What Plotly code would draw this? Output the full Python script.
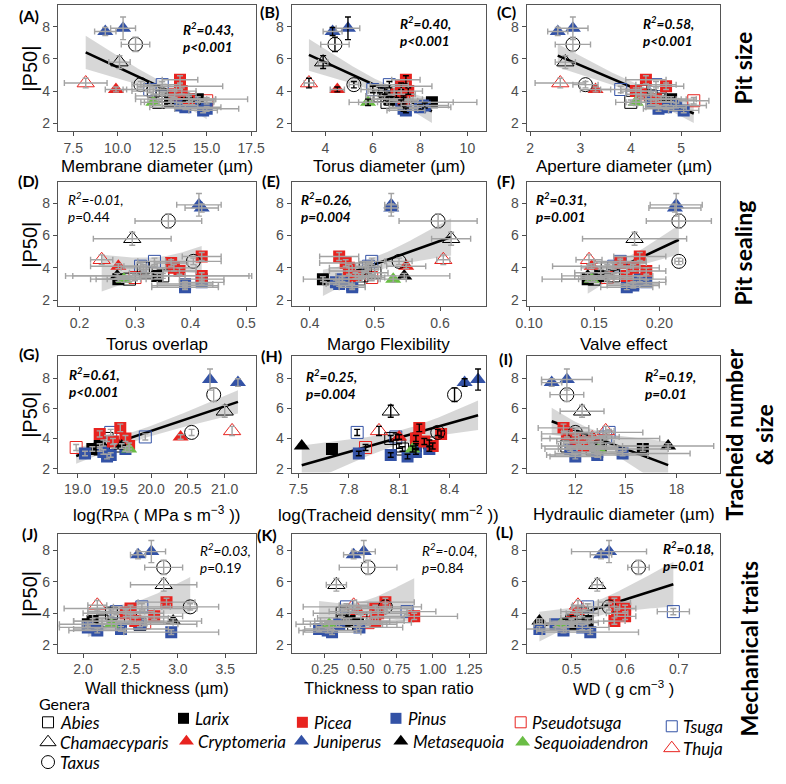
import numpy as np
import plotly.graph_objects as go

# ---------------- data (one entry per species, same order everywhere) ----------------
genus = ["Juniperus", "Juniperus", "Taxus", "Chamaecyparis", "Thuja", "Taxus", "Cryptomeria",
         "Picea", "Picea", "Picea", "Picea", "Picea", "Tsuga", "Tsuga",
         "Abies", "Abies", "Abies", "Abies", "Larix", "Larix", "Metasequoia",
         "Sequoiadendron", "Pseudotsuga", "Pinus", "Pinus", "Pinus", "Pinus", "Pinus"]
p50 = [7.7, 7.9, 6.9, 5.8, 4.5, 4.4, 4.1, 4.7, 4.3, 3.8, 4.0, 3.5, 4.4, 4.1,
       4.0, 3.7, 3.5, 3.3, 3.3, 3.5, 3.5, 3.3, 3.4, 3.0, 2.9, 3.3, 3.1, 2.8]
p50_sd = [0.25, 0.7, 0.45, 0.4, 0.3, 0.2, 0.15, 0.25, 0.2, 0.2, 0.2, 0.2, 0.2, 0.2,
          0.2, 0.2, 0.15, 0.15, 0.15, 0.15, 0.15, 0.2, 0.2, 0.15, 0.15, 0.15, 0.15, 0.15]

membrane_diam = [9.3, 10.3, 11.0, 10.1, 8.2, 11.3, 9.9, 13.5, 13.5, 13.2, 13.6, 14.0, 12.5, 11.8,
                 12.0, 12.5, 13.0, 12.3, 13.0, 14.5, 14.0, 12.0, 15.0, 13.8, 15.0, 14.2, 13.5, 14.8]
membrane_sd = [0.6, 0.7, 0.8, 0.6, 1.2, 0.5, 0.6, 1.0, 2.4, 1.2, 0.8, 1.5, 1.0, 1.5,
               1.2, 1.5, 2.0, 1.0, 1.0, 2.8, 1.5, 0.5, 0.4, 2.0, 1.8, 1.2, 1.0, 0.8]
torus_diam = [4.3, 4.95, 4.4, 3.9, 3.3, 5.2, 4.5, 7.4, 7.2, 7.0, 7.5, 7.3, 6.7, 6.0,
              6.5, 6.3, 6.8, 6.6, 8.5, 6.7, 6.7, 5.8, 7.3, 8.0, 7.3, 7.2, 8.2, 7.4]
torus_sd = [0.4, 0.5, 0.6, 0.2, 0.2, 0.2, 0.3, 0.6, 1.3, 0.8, 0.6, 0.8, 0.8, 0.5,
            0.7, 0.6, 0.8, 0.9, 1.9, 1.0, 0.8, 0.4, 0.6, 1.3, 0.6, 2.2, 1.0, 0.8]
aperture_diam = [2.55, 2.85, 2.85, 2.7, 2.6, 3.1, 3.3, 4.3, 4.7, 4.2, 4.1, 4.5, 4.5, 3.8,
                 4.2, 4.4, 4.6, 4.0, 4.5, 4.8, 4.7, 4.1, 5.25, 4.7, 4.55, 4.4, 4.9, 5.05]
aperture_sd = [0.2, 0.3, 0.35, 0.2, 0.5, 0.25, 0.3, 0.4, 0.35, 0.3, 0.3, 0.4, 0.4, 0.4,
               0.3, 0.3, 0.4, 0.3, 0.3, 0.5, 0.4, 0.2, 0.3, 0.4, 0.3, 0.5, 0.6, 0.3]
torus_overlap = [0.42, 0.415, 0.36, 0.295, 0.24, 0.405, 0.27, 0.42, 0.365, 0.38, 0.37, 0.42, 0.335, 0.31,
                 0.315, 0.32, 0.35, 0.29, 0.27, 0.34, 0.268, 0.28, 0.30, 0.39, 0.39, 0.42, 0.42, 0.39]
torus_overlap_sd = [0.03, 0.04, 0.06, 0.07, 0.02, 0.05, 0.05, 0.035, 0.03, 0.03, 0.04, 0.09, 0.03, 0.03,
                    0.04, 0.03, 0.04, 0.06, 0.05, 0.165, 0.08, 0.03, 0.03, 0.05, 0.06, 0.04, 0.04, 0.06]
margo_flex = [0.525, 0.525, 0.597, 0.617, 0.605, 0.537, 0.548, 0.445, 0.455, 0.46, 0.46, 0.47, 0.495, 0.49,
              0.485, 0.50, 0.48, 0.475, 0.42, 0.47, 0.545, 0.528, 0.495, 0.445, 0.465, 0.45, 0.44, 0.465]
margo_flex_sd = [0.01, 0.01, 0.06, 0.03, 0.01, 0.02, 0.03, 0.03, 0.04, 0.03, 0.03, 0.03, 0.02, 0.02,
                 0.02, 0.02, 0.02, 0.03, 0.03, 0.02, 0.07, 0.02, 0.02, 0.02, 0.02, 0.03, 0.02, 0.02]
valve_effect = [0.212, 0.213, 0.215, 0.181, 0.146, 0.215, 0.148, 0.185, 0.17, 0.19, 0.18, 0.175, 0.17, 0.165,
                0.16, 0.155, 0.165, 0.15, 0.145, 0.155, 0.145, 0.148, 0.16, 0.18, 0.18, 0.185, 0.19, 0.175]
valve_effect_sd = [0.02, 0.02, 0.025, 0.04, 0.01, 0.003, 0.03, 0.02, 0.02, 0.015, 0.02, 0.02, 0.02, 0.02,
                   0.02, 0.02, 0.025, 0.04, 0.02, 0.02, 0.02, 0.01, 0.02, 0.02, 0.02, 0.02, 0.015, 0.02]
log_rpa = [21.18, 20.8, 20.85, 21.0, 21.1, 20.55, 20.4, 19.58, 19.3, 19.48, 19.65, 19.7, 19.45, 19.92,
           19.4, 19.35, 19.5, 19.3, 19.2, 19.3, 19.6, 19.7, 18.98, 19.1, 19.45, 19.65, 19.35, 19.4]
log_density = [8.49, 8.57, 8.43, 8.05, 7.98, 8.33, 8.1, 8.22, 8.35, 8.25, 8.2, 8.3, 7.85, 8.08,
               8.05, 8.28, 8.1, 8.12, 7.7, 8.2, 7.52, 8.18, 7.9, 7.86, 8.05, 8.28, 8.2, 8.15]
hyd_diam = [10.6, 11.5, 11.5, 12.4, 13.8, 12.0, 13.0, 11.3, 11.5, 12.2, 12.0, 12.5, 14.0, 13.8,
            13.5, 12.8, 11.5, 13.0, 16.0, 13.5, 17.5, 13.4, 13.0, 14.8, 13.3, 11.7, 13.3, 12.0]
hyd_diam_sd = [0.6, 1.5, 1.0, 1.3, 0.5, 0.8, 0.8, 1.5, 1.5, 1.3, 1.5, 1.3, 2.0, 0.8,
               3.5, 1.5, 1.5, 2.0, 1.5, 2.5, 2.7, 1.0, 1.5, 4.0, 3.0, 1.5, 1.5, 1.5]
wall_thick = [2.58, 2.72, 2.85, 2.85, 2.15, 3.13, 2.45, 2.88, 2.5, 2.75, 2.45, 2.55, 2.62, 2.35,
              2.3, 2.5, 2.2, 2.6, 2.05, 2.1, 2.95, 2.3, 2.65, 2.4, 2.15, 2.6, 2.05, 2.93]
wall_thick_sd = [0.08, 0.15, 0.2, 0.35, 0.1, 0.3, 0.3, 0.3, 0.7, 0.3, 0.4, 0.3, 0.3, 0.3,
                 0.3, 0.4, 0.3, 0.4, 0.3, 0.2, 0.3, 0.1, 0.3, 0.5, 0.3, 0.6, 0.3, 0.5]
thick_span = [0.45, 0.52, 0.55, 0.33, 0.45, 0.67, 0.48, 0.67, 0.6, 0.87, 0.62, 0.6, 0.4, 0.82,
              0.37, 0.5, 0.38, 0.45, 0.48, 0.42, 0.40, 0.28, 0.55, 0.21, 0.27, 0.35, 0.49, 0.3]
thick_span_sd = [0.07, 0.08, 0.2, 0.07, 0.1, 0.25, 0.2, 0.2, 0.25, 0.3, 0.2, 0.2, 0.3, 0.2,
                 0.2, 0.3, 0.2, 0.3, 0.2, 0.2, 0.3, 0.05, 0.3, 0.1, 0.2, 0.3, 0.3, 0.2]
wood_density = [0.555, 0.57, 0.625, 0.548, 0.512, 0.57, 0.51, 0.58, 0.60, 0.60, 0.585, 0.58, 0.53, 0.69,
                0.52, 0.51, 0.50, 0.49, 0.50, 0.53, 0.44, 0.48, 0.50, 0.44, 0.485, 0.47, 0.52, 0.535]
wood_density_sd = [0.02, 0.07, 0.02, 0.01, 0.01, 0.02, 0.03, 0.03, 0.02, 0.02, 0.02, 0.02, 0.03, 0.03,
                   0.03, 0.03, 0.04, 0.04, 0.03, 0.05, 0.005, 0.03, 0.05, 0.05, 0.05, 0.04, 0.05, 0.09]

r2_values = ["0.43", "0.40", "0.58", "-0.01", "0.26", "0.31", "0.61", "0.25", "0.19", "0.03", "-0.04", "0.18"]
p_values = ["<0.001", "<0.001", "<0.001", "=0.44", "=0.004", "=0.001", "<0.001", "=0.004", "=0.01",
            "=0.19", "=0.84", "=0.01"]
significant = [True, True, True, False, True, True, True, True, True, False, False, True]

ticks_A = [7.5, 10.0, 12.5, 15.0, 17.5]; labels_A = ["7.5", "10.0", "12.5", "15.0", "17.5"]
ticks_B = [4, 6, 8, 10]; labels_B = ["4", "6", "8", "10"]
ticks_C = [2, 3, 4, 5]; labels_C = ["2", "3", "4", "5"]
ticks_D = [0.2, 0.3, 0.4, 0.5]; labels_D = ["0.2", "0.3", "0.4", "0.5"]
ticks_E = [0.4, 0.5, 0.6]; labels_E = ["0.4", "0.5", "0.6"]
ticks_F = [0.10, 0.15, 0.20]; labels_F = ["0.10", "0.15", "0.20"]
ticks_G = [19.0, 19.5, 20.0, 20.5, 21.0]; labels_G = ["19.0", "19.5", "20.0", "20.5", "21.0"]
ticks_H = [7.5, 7.8, 8.1, 8.4]; labels_H = ["7.5", "7.8", "8.1", "8.4"]
ticks_I = [12, 15, 18]; labels_I = ["12", "15", "18"]
ticks_J = [2.0, 2.5, 3.0, 3.5]; labels_J = ["2.0", "2.5", "3.0", "3.5"]
ticks_K = [0.25, 0.50, 0.75, 1.00, 1.25]; labels_K = ["0.25", "0.50", "0.75", "1.00", "1.25"]
ticks_L = [0.5, 0.6, 0.7]; labels_L = ["0.5", "0.6", "0.7"]
ticks_P50 = [2, 4, 6, 8]

legend_genera = ["Abies", "Chamaecyparis", "Taxus", "Larix", "Cryptomeria", "Picea", "Juniperus",
                 "Pinus", "Metasequoia", "Pseudotsuga", "Sequoiadendron", "Tsuga", "Thuja"]

# ---------------- styles / layout ----------------
W, H = 786, 784
RED, BLUE, GREEN, BLK = "#e8231f", "#3352a6", "#6abd45", "#000000"
GREY_ERR = "#a3a3a3"
TICKC = "#4d4d4d"
style = {
    "Abies": ("square-open", BLK, 12), "Chamaecyparis": ("triangle-up-open", BLK, 15),
    "Taxus": ("circle-open", BLK, 14), "Larix": ("square", BLK, 12),
    "Cryptomeria": ("triangle-up", RED, 14), "Picea": ("square", RED, 12),
    "Juniperus": ("triangle-up", BLUE, 14), "Pinus": ("square", BLUE, 12),
    "Metasequoia": ("triangle-up", BLK, 14), "Pseudotsuga": ("square-open", RED, 12),
    "Sequoiadendron": ("triangle-up", GREEN, 14), "Tsuga": ("square-open", BLUE, 12),
    "Thuja": ("triangle-up-open", RED, 15),
}
draw_order = ["Tsuga", "Pseudotsuga", "Abies", "Larix", "Pinus", "Picea", "Metasequoia", "Sequoiadendron",
              "Cryptomeria", "Thuja", "Chamaecyparis", "Taxus", "Juniperus"]

col_px = [(48, 251), (288, 487), (529, 728)]
row_px = [(5, 132), (183, 308), (358, 475), (537, 656)]
row_yrange = [[1.5, 9.35], [1.61, 9.31], [1.74, 9.45], [1.5, 9.0]]
xtitle_y = [167, 346, 517, 692]

panels = [
    dict(x=membrane_diam, sd=membrane_sd, xr=[6.63, 17.75], tv=ticks_A, tt=labels_A,
         title="Membrane diameter (µm)", lab="(A)", lab_xy=(18, 16), txt_xy=(175, 19), ycol=GREY_ERR),
    dict(x=torus_diam, sd=torus_sd, xr=[2.57, 10.77], tv=ticks_B, tt=labels_B,
         title="Torus diameter (µm)", lab="(B)", lab_xy=(265, 12), txt_xy=(398, 13), ycol=BLK),
    dict(x=aperture_diam, sd=aperture_sd, xr=[1.93, 5.78], tv=ticks_C, tt=labels_C,
         title="Aperture diameter (µm)", lab="(C)", lab_xy=(508, 12), txt_xy=(647, 13), ycol=GREY_ERR),
    dict(x=torus_overlap, sd=torus_overlap_sd, xr=[0.161, 0.517], tv=ticks_D, tt=labels_D,
         title="Torus overlap", lab="(D)", lab_xy=(18, 181), txt_xy=(57, 190), ycol=GREY_ERR),
    dict(x=margo_flex, sd=margo_flex_sd, xr=[0.372, 0.670], tv=ticks_E, tt=labels_E,
         title="Margo Flexibility", lab="(E)", lab_xy=(267, 181), txt_xy=(297, 190), ycol=GREY_ERR),
    dict(x=valve_effect, sd=valve_effect_sd, xr=[0.098, 0.247], tv=ticks_F, tt=labels_F,
         title="Valve effect", lab="(F)", lab_xy=(508, 181), txt_xy=(538, 190), ycol=GREY_ERR),
    dict(x=log_rpa, sd=None, xr=[18.73, 21.42], tv=ticks_G, tt=labels_G,
         title='log(R<span style="font-size:12px">PA</span> ( MPa s m<sup>−3</sup> ))',
         lab="(G)", lab_xy=(18, 355), txt_xy=(58, 366), ycol=GREY_ERR),
    dict(x=log_density, sd=None, xr=[7.46, 8.615], tv=ticks_H, tt=labels_H,
         title="log(Tracheid density( mm<sup>−2</sup> ))", lab="(H)", lab_xy=(267, 357),
         txt_xy=(302, 368), ycol=BLK),
    dict(x=hyd_diam, sd=hyd_diam_sd, xr=[9.11, 20.6], tv=ticks_I, tt=labels_I,
         title="Hydraulic diameter (µm)", lab="(I)", lab_xy=(508, 360), txt_xy=(650, 368), ycol=GREY_ERR),
    dict(x=wall_thick, sd=wall_thick_sd, xr=[1.733, 3.82], tv=ticks_J, tt=labels_J,
         title="Wall thickness (µm)", lab="(J)", lab_xy=(20, 536), txt_xy=(193, 543), ycol=GREY_ERR),
    dict(x=thick_span, sd=thick_span_sd, xr=[0.02, 1.365], tv=ticks_K, tt=labels_K,
         title="Thickness to span ratio", lab="(K)", lab_xy=(263, 537), txt_xy=(421, 543), ycol=GREY_ERR),
    dict(x=wood_density, sd=wood_density_sd, xr=[0.416, 0.778], tv=ticks_L, tt=labels_L,
         title="WD ( g cm<sup>−3</sup> )", lab="(L)", lab_xy=(506, 534), txt_xy=(668, 541), ycol=GREY_ERR),
]


def fit_band(x, y, n_grid=80, t=2.056):
    x = np.asarray(x, float); y = np.asarray(y, float)
    n = len(x); xm = x.mean(); sxx = ((x - xm) ** 2).sum()
    b = ((x - xm) * (y - y.mean())).sum() / sxx
    a = y.mean() - b * xm
    s = np.sqrt(((y - (a + b * x)) ** 2).sum() / (n - 2))
    xg = np.linspace(x.min(), x.max(), n_grid)
    yg = a + b * xg
    se = s * np.sqrt(1.0 / n + (xg - xm) ** 2 / sxx)
    return xg, yg, yg - t * se, yg + t * se


fig = go.Figure()
layout = dict(width=W, height=H, margin=dict(l=0, r=0, t=0, b=0), showlegend=False,
              paper_bgcolor="white", plot_bgcolor="rgba(0,0,0,0)")
annotations = []


def ann(text, x, y, size, family="Liberation Sans", color="black", xanchor="center",
       yanchor="middle", angle=0, align="center"):
    annotations.append(dict(text=text, x=x / W, y=1 - y / H, xref="paper", yref="paper", showarrow=False,
                            font=dict(size=size, family=family, color=color), xanchor=xanchor,
                            yanchor=yanchor, textangle=angle, align=align, borderpad=0))


gen_arr = np.array(genus)
y_arr = np.array(p50)
for i, p in enumerate(panels):
    r, c = divmod(i, 3)
    sfx = "" if i == 0 else str(i + 1)
    xa, ya = "x" + sfx, "y" + sfx
    x0, x1 = col_px[c]; y0, y1 = row_px[r]
    axis_common = dict(showgrid=False, zeroline=False, showline=True, mirror=True, linecolor="#555555",
                       linewidth=1, ticks="outside", ticklen=4, tickcolor=TICKC, tickwidth=1,
                       tickfont=dict(size=14, family="Liberation Sans", color=TICKC))
    layout["xaxis" + sfx] = dict(domain=[x0 / W, x1 / W], range=p["xr"], tickvals=p["tv"], ticktext=p["tt"],
                                 anchor=ya, **axis_common)
    layout["yaxis" + sfx] = dict(domain=[1 - y1 / H, 1 - y0 / H], range=row_yrange[r], tickvals=ticks_P50,
                                 ticktext=[str(v) for v in ticks_P50], anchor=xa, **axis_common)

    xg, yg, lo, hi = fit_band(p["x"], p50)
    fig.add_trace(go.Scatter(x=xg, y=lo, mode="lines", line=dict(width=0), hoverinfo="skip",
                             xaxis=xa, yaxis=ya))
    fig.add_trace(go.Scatter(x=xg, y=hi, mode="lines", line=dict(width=0), fill="tonexty",
                             fillcolor="rgba(160,160,160,0.42)", hoverinfo="skip", xaxis=xa, yaxis=ya))
    if significant[i]:
        fig.add_trace(go.Scatter(x=xg, y=yg, mode="lines", line=dict(color="black", width=2.6),
                                 hoverinfo="skip", xaxis=xa, yaxis=ya))
    xv = np.array(p["x"])
    for g in draw_order:
        m = gen_arr == g
        sym, col, sz = style[g]
        open_ = sym.endswith("open")
        fig.add_trace(go.Scatter(x=xv[m], y=y_arr[m], mode="markers", xaxis=xa, yaxis=ya,
                                 marker=dict(symbol=sym, color=col, size=sz,
                                             line=dict(width=1 if open_ else 0, color=col))))
    err_kw = dict(error_y=dict(type="data", array=p50_sd, color=p["ycol"], thickness=1.4, width=3))
    if p["sd"] is not None:
        err_kw["error_x"] = dict(type="data", array=p["sd"], color=GREY_ERR, thickness=1.4, width=3)
    fig.add_trace(go.Scatter(x=p["x"], y=p50, mode="markers", xaxis=xa, yaxis=ya,
                             marker=dict(size=1, color="rgba(0,0,0,0)"), hoverinfo="skip", **err_kw))

    # texts
    ann("<b>" + p["lab"] + "</b>", p["lab_xy"][0], p["lab_xy"][1], 16, family="Lato")
    pv = p_values[i].replace("<", "&lt;")
    if significant[i]:
        t = "<b><i>R<sup>2</sup>=" + r2_values[i] + ",</i></b><br><b><i>p" + pv + "</i></b>"
    else:
        t = "<i>R<sup>2</sup>=" + r2_values[i] + ",</i><br><i>p</i>" + pv
    ann(t, p["txt_xy"][0], p["txt_xy"][1], 13.5, family="Lato", xanchor="left", yanchor="top", align="left")
    ann(p["title"], (x0 + x1) / 2, xtitle_y[r], 17 if r < 3 else 16.5)
    if c == 0:
        ann("|P50|", 20, (y0 + y1) / 2, 20, angle=-90)

# row labels
ann("<b>Pit size</b>", 751, 68, 23, family="Lato", angle=-90)
ann("<b>Pit sealing</b>", 751, 254, 23, family="Lato", angle=-90)
ann("<b>Tracheid number<br>& size</b>", 757, 437, 23, family="Lato", angle=-90)
ann("<b>Mechanical traits</b>", 757, 652, 23, family="Lato", angle=-90)

# ---------------- manual legend ----------------
leg_sym_px = {"Abies": (38, 726), "Chamaecyparis": (38, 746), "Taxus": (38, 766),
              "Larix": (177, 722), "Cryptomeria": (180, 745), "Picea": (299, 726),
              "Juniperus": (298, 745), "Pinus": (395, 722), "Metasequoia": (400, 745),
              "Pseudotsuga": (523, 726), "Sequoiadendron": (525, 746), "Tsuga": (678, 730),
              "Thuja": (678, 752)}
layout["xaxis13"] = dict(domain=[0, 1], range=[0, W], visible=False, anchor="y13")
layout["yaxis13"] = dict(domain=[0, 1], range=[H, 0], visible=False, anchor="x13")
for g in legend_genera:
    sym, col, sz = style[g]
    px, py = leg_sym_px[g]
    open_ = sym.endswith("open")
    fig.add_trace(go.Scatter(x=[px], y=[py], mode="markers", xaxis="x13", yaxis="y13", hoverinfo="skip",
                             marker=dict(symbol=sym, color=col, size=sz - 1,
                                         line=dict(width=1 if open_ else 0, color=col))))
    ann("<i>" + g + "</i>", px + 11, py, 17, family="Lato", xanchor="left")
ann("Genera", 28, 707, 16, family="Lato", xanchor="left")

layout["annotations"] = annotations
fig.update_layout(**layout)
fig.write_html("out.html", config={"displayModeBar": False},
               post_script="document.body.style.margin='0';")
